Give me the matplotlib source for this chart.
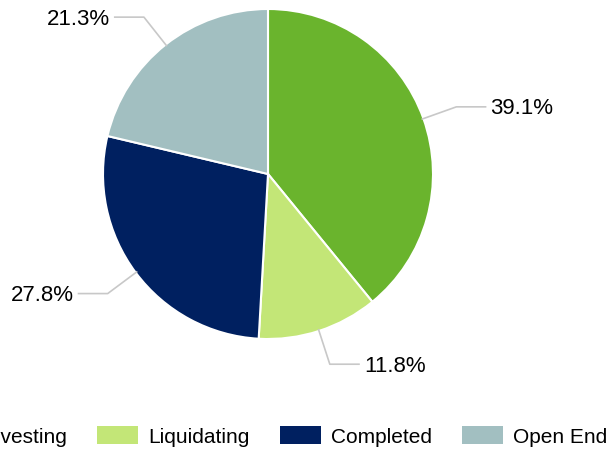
import numpy as np
import matplotlib
matplotlib.use("Agg")
import matplotlib.pyplot as plt
from matplotlib.patches import Patch

# Data
categories = ["Investing", "Liquidating", "Completed", "Open End"]
shares = [39.1, 11.8, 27.8, 21.3]
colors = ["#6AB42D", "#C3E677", "#002060", "#A2BFC1"]

plt.rcParams['font.family'] = ['Liberation Sans Narrow', 'Liberation Sans', 'DejaVu Sans']

W, H = 610, 452
fig = plt.figure(figsize=(W / 100, H / 100), dpi=100)
ax = fig.add_axes([0, 0, 1, 1])

cx, cy, r = 268, H - 175, 165
wedges, _ = ax.pie(shares, colors=colors, startangle=90, counterclock=False,
                   center=(cx, cy), radius=r, frame=True,
                   wedgeprops=dict(edgecolor='white', linewidth=1.5))
ax.set_xlim(0, W)
ax.set_ylim(0, H)
ax.set_aspect('equal')
ax.axis('off')

# Labels with elbow leader lines
for w, v in zip(wedges, shares):
    ang = np.deg2rad((w.theta1 + w.theta2) / 2)
    x0, y0 = cx + (r - 2) * np.cos(ang), cy + (r - 2) * np.sin(ang)
    x1, y1 = cx + 200 * np.cos(ang), cy + 200 * np.sin(ang)
    side = 1 if np.cos(ang) >= 0 else -1
    x2 = x1 + side * 30
    ax.plot([x0, x1, x2], [y0, y1, y1], color='#C8C8C8', lw=1.2,
            solid_capstyle='butt')
    ax.text(x2 + side * 4, y1 - 1, f"{v:.1f}%", fontsize=16,
            ha='left' if side > 0 else 'right', va='center', color='black')

handles = [Patch(facecolor=c, edgecolor='none', label=l)
           for c, l in zip(colors, categories)]
fig.legend(handles=handles, loc='center right', ncol=4, frameon=False,
           bbox_to_anchor=(607 / W, 1 - 437 / H), fontsize=15,
           handlelength=1.97, handleheight=0.95, handletextpad=0.48,
           columnspacing=1.44, borderpad=0, borderaxespad=0)

fig.savefig("out.png", dpi=100)
